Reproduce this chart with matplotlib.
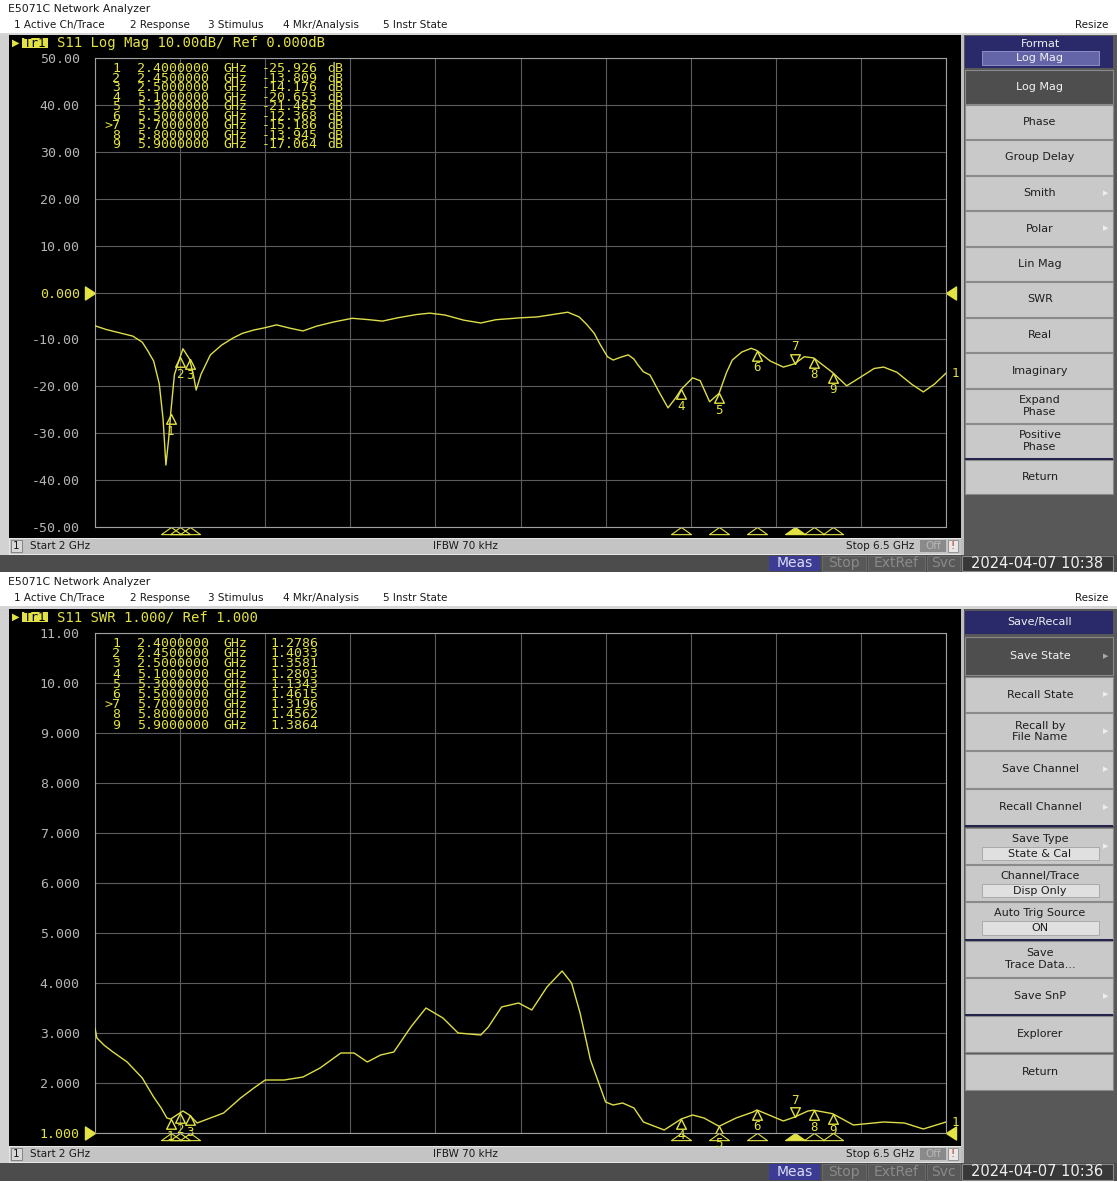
import numpy as np
import matplotlib
matplotlib.use('Agg')
import matplotlib.pyplot as plt
from matplotlib.patches import Rectangle
from matplotlib.transforms import blended_transform_factory

W, H = 1117, 1182

# S11 log magnitude trace (GHz, dB)
freq_db = [2.00, 2.06, 2.13, 2.20, 2.25, 2.28, 2.31, 2.34, 2.36, 2.375, 2.39, 2.40,
           2.42, 2.45, 2.465, 2.50, 2.52, 2.535, 2.56, 2.61, 2.67, 2.73, 2.78, 2.84,
           2.90, 2.96, 3.03, 3.10, 3.17, 3.26, 3.36, 3.45, 3.52, 3.60, 3.70, 3.77,
           3.85, 3.95, 4.04, 4.12, 4.25, 4.34, 4.42, 4.50, 4.56, 4.60, 4.64, 4.67,
           4.71, 4.74, 4.78, 4.82, 4.85, 4.87, 4.90, 4.935, 4.98, 5.03, 5.07, 5.10,
           5.16, 5.20, 5.25, 5.30, 5.34, 5.37, 5.42, 5.47, 5.50, 5.57, 5.64, 5.70,
           5.75, 5.80, 5.85, 5.90, 5.975, 6.05, 6.12, 6.17, 6.24, 6.32, 6.38, 6.44, 6.50]
s11_db = [-7.1, -7.9, -8.6, -9.3, -10.6, -12.5, -14.6, -19.5, -27.0, -36.8, -31.0, -25.9,
          -17.5, -13.8, -12.0, -14.2, -17.5, -20.8, -17.5, -13.3, -11.2, -9.7, -8.7, -8.0,
          -7.5, -6.9, -7.6, -8.2, -7.2, -6.3, -5.5, -5.8, -6.1, -5.4, -4.7, -4.4,
          -4.8, -5.9, -6.5, -5.8, -5.4, -5.2, -4.7, -4.2, -5.2, -6.8, -8.7, -11.0,
          -13.7, -14.4, -13.8, -13.3, -14.2, -15.4, -16.9, -17.6, -21.0, -24.6, -22.5, -20.65,
          -18.2, -18.8, -23.3, -21.5, -17.0, -14.4, -12.7, -11.9, -12.37, -14.6, -15.9, -15.19,
          -13.7, -13.95, -15.5, -17.06, -19.9, -18.0, -16.2, -15.9, -17.0, -19.6, -21.2, -19.5, -17.2]

# S11 SWR trace (GHz, ratio)
freq_swr = [2.00, 2.01, 2.05, 2.095, 2.17, 2.25, 2.31, 2.35, 2.38, 2.40, 2.45, 2.465,
            2.50, 2.54, 2.61, 2.68, 2.77, 2.84, 2.90, 3.00, 3.10, 3.19, 3.30, 3.37,
            3.44, 3.51, 3.58, 3.67, 3.75, 3.84, 3.92, 3.98, 4.04, 4.08, 4.15, 4.24,
            4.31, 4.39, 4.47, 4.52, 4.565, 4.62, 4.70, 4.74, 4.79, 4.85, 4.90, 5.01,
            5.10, 5.16, 5.22, 5.30, 5.39, 5.48, 5.50, 5.64, 5.70, 5.77, 5.80, 5.90,
            6.01, 6.17, 6.28, 6.38, 6.50]
s11_swr = [3.10, 2.90, 2.75, 2.62, 2.42, 2.10, 1.72, 1.50, 1.30, 1.2786, 1.4033, 1.44,
           1.358, 1.20, 1.30, 1.40, 1.70, 1.90, 2.06, 2.06, 2.12, 2.30, 2.60, 2.60,
           2.42, 2.56, 2.62, 3.12, 3.50, 3.30, 3.00, 2.98, 2.96, 3.12, 3.52, 3.60,
           3.46, 3.92, 4.24, 4.00, 3.40, 2.46, 1.62, 1.56, 1.60, 1.50, 1.22, 1.06,
           1.28, 1.36, 1.30, 1.134, 1.30, 1.42, 1.4615, 1.24, 1.3196, 1.44, 1.4562, 1.3864,
           1.16, 1.22, 1.20, 1.08, 1.22]

marker_ids = ['1', '2', '3', '4', '5', '6', '7', '8', '9']
marker_freq = [2.4, 2.45, 2.5, 5.1, 5.3, 5.5, 5.7, 5.8, 5.9]
marker_db = [-25.926, -13.809, -14.176, -20.653, -21.465, -12.368, -15.186, -13.945, -17.064]
marker_swr = [1.2786, 1.4033, 1.3581, 1.2803, 1.1343, 1.4615, 1.3196, 1.4562, 1.3864]
active_marker = '7'

db_ticks = [50, 40, 30, 20, 10, 0, -10, -20, -30, -40, -50]
swr_ticks = [11, 10, 9, 8, 7, 6, 5, 4, 3, 2, 1]

menu_items = ['1 Active Ch/Trace', '2 Response', '3 Stimulus', '4 Mkr/Analysis', '5 Instr State']
menu_x = [14, 130, 208, 283, 383]

format_keys = [('Log Mag', None, 70, 104, True, False),
               ('Phase', None, 105, 139, False, False),
               ('Group Delay', None, 140, 175, False, False),
               ('Smith', None, 176, 210, False, True),
               ('Polar', None, 211, 246, False, True),
               ('Lin Mag', None, 247, 281, False, False),
               ('SWR', None, 282, 317, False, False),
               ('Real', None, 318, 352, False, False),
               ('Imaginary', None, 353, 388, False, False),
               ('Expand\nPhase', None, 389, 423, False, False),
               ('Positive\nPhase', None, 424, 458, False, False),
               ('Return', None, 460, 494, False, False)]

save_keys = [('Save State', None, 637, 675, True, True),
             ('Recall State', None, 677, 712, False, True),
             ('Recall by\nFile Name', None, 713, 750, False, True),
             ('Save Channel', None, 751, 788, False, True),
             ('Recall Channel', None, 789, 825, False, True),
             ('Save Type', 'State & Cal', 828, 864, False, True),
             ('Channel/Trace', 'Disp Only', 865, 901, False, False),
             ('Auto Trig Source', 'ON', 902, 939, False, False),
             ('Save\nTrace Data...', None, 941, 977, False, False),
             ('Save SnP', None, 978, 1014, False, True),
             ('Explorer', None, 1016, 1052, False, False),
             ('Return', None, 1054, 1090, False, False)]

MONO = 'DejaVu Sans Mono'
SANS = 'DejaVu Sans'
YEL = '#e2e244'
TRACE = '#dede48'

fig = plt.figure(figsize=(W / 100, H / 100), dpi=100)
fig.patch.set_facecolor('white')


def fx(x):
    return x / W


def fy(y):
    return 1 - y / H


def rect(x0, y0, x1, y1, fc, ec='none', lw=0.0):
    # zorder below the axes so the plots sit on top of the black window
    fig.add_artist(Rectangle((fx(x0), fy(y1)), (x1 - x0) / W, (y1 - y0) / H,
                             transform=fig.transFigure, facecolor=fc,
                             edgecolor=ec, linewidth=lw, zorder=-1))


def label(x, y, s, **kw):
    kw.setdefault('va', 'center')
    kw.setdefault('family', SANS)
    kw.setdefault('fontsize', 7.5)
    kw.setdefault('color', '#1a1a1a')
    kw.setdefault('zorder', 10)
    fig.text(fx(x), fy(y), s, **kw)


def fmt4(v):
    if v == 0:
        return '0.000'
    digits = len(str(int(abs(v))))
    return '%.*f' % (max(4 - digits, 0), v)


def softkey(text, sub, y0, y1, selected, arrow):
    fc = '#4e4e4e' if selected else '#c9c9c9'
    rect(965, y0, 1113, y1, fc, ec='#8a8a8a', lw=0.8)
    tc = '#f4f4f4' if selected else '#1e1e1e'
    h = y1 - y0
    if sub:
        label(1040, y0 + h * 0.3, text, ha='center', fontsize=8, color=tc)
        rect(982, y0 + h * 0.52, 1099, y0 + h * 0.9, '#e0e0e0', ec='#a4a4a4', lw=0.6)
        label(1040, y0 + h * 0.71, sub, ha='center', fontsize=8, color=tc)
    else:
        label(1040, (y0 + y1) / 2, text, ha='center', fontsize=8, color=tc,
              multialignment='center', linespacing=1.15)
    if arrow:
        label(1106, (y0 + y1) / 2, '\u25b6', ha='center', fontsize=5,
              color='#a8a8a8' if selected else '#eeeeee')


def screen(title_y, frame_y0, grid, status, bar, header, freq, vals, ticks,
           ylim, ref, mvals, mtext, unit, row_y0, row_dy, keys, date):
    gx0, gy0, gx1, gy1 = grid
    # window title and menu
    label(8, title_y, 'E5071C Network Analyzer', fontsize=7.8)
    for s, x in zip(menu_items, menu_x):
        label(x, title_y + 16, s, fontsize=7.5)
    label(1108, title_y + 16, 'Resize', ha='right', fontsize=7.5)
    rect(0, title_y + 24, W, frame_y0, '#d6d6d6')
    rect(0, frame_y0, 9, bar[0], '#d2d2d2')

    # black measurement window
    rect(9, frame_y0, 961, status[0], 'black')
    label(16, frame_y0 + 8, '\u25b6', ha='center', fontsize=7, color=YEL)
    rect(22, frame_y0 + 3, 48, frame_y0 + 13, YEL)
    label(35, frame_y0 + 8.5, 'Tr1', ha='center', family=MONO, fontsize=9, color='black')
    label(57, frame_y0 + 8.5, header, family=MONO, fontsize=10, color=YEL)

    # status bars
    rect(9, status[0], 961, status[1], '#c4c4c4', ec='#e8e8e8', lw=0.6)
    sy = (status[0] + status[1]) / 2
    rect(11, status[0] + 2, 22, status[1] - 2, '#d8d8d8', ec='#7a7a7a', lw=0.6)
    label(16.5, sy, '1', ha='center', fontsize=7.5)
    label(30, sy, 'Start 2 GHz', fontsize=7.5)
    label(465, sy, 'IFBW 70 kHz', ha='center', fontsize=7.5)
    label(914, sy, 'Stop 6.5 GHz', ha='right', fontsize=7.5)
    rect(920, status[0] + 2, 946, status[1] - 2, '#8a8a8a')
    label(933, sy, 'Off', ha='center', fontsize=7.5, color='#b8b8b8')
    rect(948, status[0] + 2, 958, status[1] - 2, '#e8e8e8', ec='#8a8a8a', lw=0.6)
    label(953, sy, '!', ha='center', fontsize=7.5, color='#c02020')

    rect(0, bar[0], W, bar[1], '#4c4c4c')
    by = (bar[0] + bar[1]) / 2
    rect(769, bar[0] + 1, 820, bar[1] - 1, '#3c3c94')
    label(794.5, by, 'Meas', ha='center', fontsize=10, color='#dcdcf8')
    for s, x0, x1 in [('Stop', 822, 866), ('ExtRef', 868, 925), ('Svc', 927, 960)]:
        rect(x0, bar[0] + 1, x1, bar[1] - 1, '#585858', ec='#6e6e6e', lw=0.6)
        label((x0 + x1) / 2, by, s, ha='center', fontsize=10, color='#8a8a8a')
    rect(962, bar[0] + 1, 1113, bar[1] - 1, '#383838', ec='#8a8a8a', lw=0.8)
    label(1037, by, date, ha='center', fontsize=10.5, color='#f0f0f0')

    # softkey column
    rect(961, frame_y0, W, bar[0], '#585858')
    rect(961, frame_y0, 964, bar[0], '#bdbdbd')
    for text, sub, y0, y1, sel, arrow in keys:
        softkey(text, sub, y0, y1, sel, arrow)

    # marker table, one multi-line text per column
    nums = ['>' + m if m == active_marker else m for m in marker_ids]
    freqs = ['%.7f' % f for f in marker_freq]
    values = [mtext % v for v in mvals]
    ls = row_dy / 15.4
    cols = [(120, 'right', nums), (137, 'left', freqs), (223, 'left', ['GHz'] * 9),
            (318, 'right', values)]
    if unit:
        cols.append((327, 'left', [unit] * 9))
    for x, ha, lines in cols:
        label(x, row_y0 - 5, '\n'.join(lines), ha=ha, va='top', family=MONO,
              fontsize=9.5, color=YEL, linespacing=ls, multialignment=ha)

    # the trace
    ax = fig.add_axes([fx(gx0), fy(gy1), (gx1 - gx0) / W, (gy1 - gy0) / H])
    ax.set_facecolor('black')
    ax.plot(freq, vals, color=TRACE, lw=1.0, zorder=3)
    ax.set_xlim(2, 6.5)
    ax.set_ylim(*ylim)
    ax.set_xticks(np.linspace(2, 6.5, 11))
    ax.set_xticklabels([])
    ax.set_yticks(ticks)
    ax.set_yticklabels([fmt4(t) for t in ticks], family=MONO, fontsize=9.5, color='#b4b4b4')
    ax.get_yticklabels()[ticks.index(ref)].set_color(YEL)
    ax.tick_params(length=0, pad=11)
    ax.grid(True, color='#5c5c5c', lw=0.8)
    for sp in ax.spines.values():
        sp.set_color('#a0a0a0')
        sp.set_linewidth(0.8)

    up = [(0, 0), (-0.5, -1), (0.5, -1), (0, 0)]
    down = [(0, 0), (-0.5, 1), (0.5, 1), (0, 0)]
    for mid, f, v in zip(marker_ids, marker_freq, mvals):
        if mid == active_marker:
            ax.plot([f], [v], marker=down, ms=14, mfc='none', mec=YEL, mew=1.0, zorder=4)
            ax.annotate(mid, (f, v), xytext=(0, 17), textcoords='offset pixels',
                        ha='center', va='center', family=MONO, fontsize=9, color=YEL)
        else:
            ax.plot([f], [v], marker=up, ms=14, mfc='none', mec=YEL, mew=1.0, zorder=4)
            ax.annotate(mid, (f, v), xytext=(0, -17), textcoords='offset pixels',
                        ha='center', va='center', family=MONO, fontsize=9, color=YEL,
                        annotation_clip=False)
    ax.annotate('1', (freq[-1], vals[-1]), xytext=(6, 0), textcoords='offset pixels',
                ha='left', va='center', family=MONO, fontsize=9, color=YEL,
                annotation_clip=False)

    # marker position flags under the grid
    xb = blended_transform_factory(ax.transData, ax.transAxes)
    flag = [(0, 0), (-1.4, -1), (1.4, -1), (0, 0)]
    for mid, f in zip(marker_ids, marker_freq):
        filled = mid == active_marker
        ax.plot([f], [0], transform=xb, marker=flag, ms=14.4, mew=0.8,
                mfc=YEL if filled else 'none', mec=YEL, clip_on=False)

    # reference level arrows
    yb = blended_transform_factory(ax.transAxes, ax.transData)
    ax.plot([0], [ref], transform=yb, marker=[(0, 0), (-1, 0.65), (-1, -0.65), (0, 0)],
            ms=14.4, mfc=YEL, mec=YEL, clip_on=False)
    ax.plot([1], [ref], transform=yb, marker=[(0, 0), (1, 0.65), (1, -0.65), (0, 0)],
            ms=14.4, mfc=YEL, mec=YEL, clip_on=False)


# top screen: Log Mag format
screen(9, 35, (95, 58, 946, 527), (538, 554), (555, 572),
       'S11 Log Mag 10.00dB/ Ref 0.000dB', freq_db, s11_db, db_ticks,
       (-50, 50), 0, marker_db, '%.3f', 'dB', 67, 10.1, format_keys,
       '2024-04-07 10:38')
rect(965, 36, 1113, 68, '#2a2a6a')
label(1040, 44, 'Format', ha='center', fontsize=8, color='#f0f0f0')
rect(982, 51, 1099, 65, '#6464a8', ec='#9a9ad0', lw=0.6)
label(1040, 58, 'Log Mag', ha='center', fontsize=8, color='#f0f0f0')
rect(965, 458, 1113, 460, '#24244c')

# bottom screen: SWR format
screen(582, 609, (95, 633, 946, 1133), (1146, 1162), (1163, 1181),
       'S11 SWR 1.000/ Ref 1.000', freq_swr, s11_swr, swr_ticks,
       (1, 11), 1, marker_swr, '%.4f', None, 642, 11.1, save_keys,
       '2024-04-07 10:36')
rect(965, 611, 1113, 634, '#2a2a6a')
label(1040, 622, 'Save/Recall', ha='center', fontsize=8, color='#f0f0f0')
for y in [826, 939.5, 1014.5]:
    rect(965, y - 1, 1113, y + 1, '#24244c')

fig.savefig('out.png', dpi=100, facecolor=fig.get_facecolor())
